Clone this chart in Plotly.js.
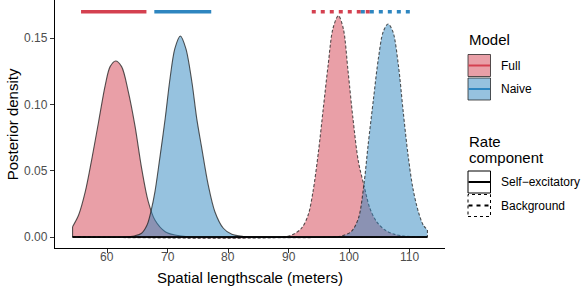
<!DOCTYPE html>
<html>
<head>
<meta charset="utf-8">
<script src="https://cdn.plot.ly/plotly-3.0.1.min.js"></script>
<style>html,body{margin:0;padding:0;background:#fff;}#chart{width:581px;height:287px;}</style>
</head>
<body>
<div id="chart"></div>
<script>
// ---- Data ----
const fullSelfX = [54.3, 55.3, 56.4, 57.5, 58.6, 59.7, 60.5, 61.4, 62.4, 63.5, 64.6, 65.7, 66.8, 67.9, 69.6, 71.2, 73.0, 76.0, 112.9];
const fullSelfY = [0.0078, 0.0166, 0.0342, 0.0594, 0.087, 0.1147, 0.1286, 0.1329, 0.1286, 0.1097, 0.084, 0.052, 0.0267, 0.0128, 0.004, 0.0015, 0.0004, 0, 0];

const naiveSelfX = [54.3, 63.0, 64.5, 65.7, 66.6, 67.3, 67.9, 68.7, 69.6, 70.4, 71.2, 72.1, 73.0, 74.0, 74.8, 75.6, 76.7, 77.8, 79.2, 80.6, 82.5, 85.0, 112.9];
const naiveSelfY = [0, 0, 0.0008, 0.0028, 0.009, 0.0204, 0.034, 0.0594, 0.0896, 0.1198, 0.1424, 0.1517, 0.1424, 0.1172, 0.0896, 0.068, 0.0393, 0.0191, 0.0066, 0.002, 0.0004, 0, 0];

const fullBgX = [54.3, 89.0, 90.5, 92.1, 93.2, 94.0, 94.9, 95.7, 96.5, 97.3, 98.2, 99.0, 99.8, 100.6, 101.5, 102.4, 103.4, 104.5, 105.9, 107.5, 109.5, 112.9];
const fullBgY = [0, 0, 0.0015, 0.0066, 0.0166, 0.0342, 0.0644, 0.0971, 0.1298, 0.1575, 0.1671, 0.1575, 0.1248, 0.0896, 0.0569, 0.0393, 0.0217, 0.0116, 0.0053, 0.002, 0.0005, 0];

const naiveBgX = [54.3, 97.5, 98.7, 100.3, 101.5, 102.4, 103.1, 104.0, 104.8, 105.6, 106.4, 107.2, 108.1, 108.9, 109.7, 110.5, 111.4, 112.2, 112.9];
const naiveBgY = [0, 0, 0.0008, 0.004, 0.0141, 0.0393, 0.0694, 0.1047, 0.1349, 0.155, 0.1608, 0.155, 0.1298, 0.0946, 0.0619, 0.0368, 0.0191, 0.0091, 0.0053];

// credible intervals (top bars)
const fullSelfCI = [55.7, 66.5];
const naiveSelfCI = [67.8, 77.2];
const fullBgCI = [93.8, 103.7];
const naiveBgCI = [101.9, 110.6];
const barLevel = 0.17;

const xTicks = [60, 70, 80, 90, 100, 110];
const yTicks = [0, 0.05, 0.10, 0.15];

const modelNames = ['Full', 'Naive'];
const componentNames = ['Self\u2212excitatory', 'Background'];

// ---- Styles ----
const RED = 'rgb(212,64,80)';
const BLUE = 'rgb(46,134,192)';
const RED_FILL = 'rgba(212,64,80,0.5)';
const BLUE_FILL = 'rgba(46,134,192,0.5)';
const OUTLINE = 'rgba(30,30,30,0.75)';
const FONT = 'Liberation Sans, Arial, Helvetica, sans-serif';
const DASH = '3px,2px';

function density(x, y, fill, dash) {
  return {
    x: x, y: y, type: 'scatter', mode: 'lines',
    line: {color: OUTLINE, width: 1.1, shape: 'spline', smoothing: 0.9, dash: dash},
    fill: 'tozeroy', fillcolor: fill, hoverinfo: 'skip', showlegend: false
  };
}
// vertical end edges of a density outline (where it is cut at the data range)
function edges(x, y, dash) {
  const ex = [], ey = [];
  const n = x.length - 1;
  if (y[0] > 0) { ex.push(x[0], x[0], null); ey.push(0, y[0], null); }
  if (y[n] > 0) { ex.push(x[n], x[n]); ey.push(y[n], 0); }
  return {x: ex, y: ey, type: 'scatter', mode: 'lines', line: {color: OUTLINE, width: 1.1, dash: dash},
    hoverinfo: 'skip', showlegend: false, connectgaps: false};
}
function bar(ci, color, dash) {
  return {
    x: ci, y: [barLevel, barLevel], type: 'scatter', mode: 'lines',
    line: {color: color, width: 3.5, dash: dash},
    hoverinfo: 'skip', showlegend: false
  };
}
const allX = [].concat(fullSelfX, naiveSelfX, fullBgX, naiveBgX);
const baseline = {
  x: [Math.min.apply(null, allX), Math.max.apply(null, allX)], y: [0, 0],
  type: 'scatter', mode: 'lines', line: {color: 'rgba(0,0,0,0.9)', width: 1.8},
  hoverinfo: 'skip', showlegend: false
};

const traces = [
  density(fullSelfX, fullSelfY, RED_FILL, 'solid'),
  density(fullBgX, fullBgY, RED_FILL, DASH),
  density(naiveSelfX, naiveSelfY, BLUE_FILL, 'solid'),
  density(naiveBgX, naiveBgY, BLUE_FILL, DASH),
  edges(fullSelfX, fullSelfY, 'solid'),
  edges(naiveBgX, naiveBgY, DASH),
  baseline,
  bar(fullSelfCI, RED, 'solid'),
  bar(naiveSelfCI, BLUE, 'solid'),
  bar(fullBgCI, RED, '4px,5px'),
  bar(naiveBgCI, BLUE, '4px,5px')
];

// ---- Layout helpers (pixel -> paper) ----
const M = {l: 55, r: 136, t: 0, b: 39};
const PW = 581 - M.l - M.r, PH = 287 - M.t - M.b;
const px = v => (v - M.l) / PW;
const py = v => (PH + M.t - v) / PH;

const shapes = [];
const annotations = [];
function rect(x0, y0, x1, y1, fill, lineColor, dash) {
  shapes.push({type: 'rect', xref: 'paper', yref: 'paper', x0: px(x0), x1: px(x1), y0: py(y1), y1: py(y0),
    fillcolor: fill, line: {color: lineColor, width: 1, dash: dash}, layer: 'above'});
}
function hline(x0, x1, y, color, width, dash) {
  shapes.push({type: 'line', xref: 'paper', yref: 'paper', x0: px(x0), x1: px(x1), y0: py(y), y1: py(y),
    line: {color: color, width: width, dash: dash}, layer: 'above'});
}
function label(x, y, text, size, extra) {
  annotations.push(Object.assign({xref: 'paper', yref: 'paper', x: px(x), y: py(y), text: text, showarrow: false,
    xanchor: 'left', yanchor: 'middle', font: {family: FONT, size: size, color: '#000'}}, extra || {}));
}

// X tick labels (placed at the axis' own tick values)
xTicks.forEach(v => {
  annotations.push({xref: 'x', yref: 'paper', x: v, y: py(256.5), text: String(v), showarrow: false,
    xanchor: 'center', yanchor: 'middle', borderpad: 0, font: {family: FONT, size: 12, color: '#4D4D4D'}});
});

// Axis titles
label(250, 277, 'Spatial lengthscale (meters)', 15, {xanchor: 'center', borderpad: 0});
label(12.3, 124, 'Posterior density', 15, {xanchor: 'center', textangle: -90});

// Model legend
label(466.5, 40, 'Model', 15);
rect(468, 54.5, 490.5, 76.5, RED_FILL, OUTLINE, 'solid');
hline(468.5, 490, 65.5, RED, 2, 'solid');
rect(468, 78, 490.5, 100, BLUE_FILL, OUTLINE, 'solid');
hline(468.5, 490, 89, BLUE, 2, 'solid');
label(498.5, 65.7, modelNames[0], 12);
label(498.5, 89.3, modelNames[1], 12);

// Rate component legend
label(466.5, 141, 'Rate', 15);
label(466.5, 157.5, 'component', 15);
rect(468, 171, 490.5, 193, 'rgba(0,0,0,0)', '#000', 'solid');
hline(468.5, 490, 182, '#000', 2, 'solid');
rect(468, 194.5, 490.5, 216.5, 'rgba(0,0,0,0)', '#000', 'dot');
hline(468.5, 490, 205.5, '#000', 2, '4px,4px');
label(498.5, 182, componentNames[0], 12);
label(498.5, 205.5, componentNames[1], 12);

const layout = {
  width: 581, height: 287,
  margin: M,
  paper_bgcolor: '#fff', plot_bgcolor: '#fff',
  showlegend: false,
  font: {family: FONT},
  xaxis: {
    range: [51.4, 115.8], tickvals: xTicks, showticklabels: false,
    showline: true, linecolor: '#000', linewidth: 1.2,
    ticks: 'outside', ticklen: 4, tickwidth: 1, tickcolor: '#333',
    showgrid: false, zeroline: false, automargin: false
  },
  yaxis: {
    range: [-0.0083, 0.1789], tickvals: yTicks, ticktext: yTicks.map(v => v.toFixed(2)),
    showline: true, linecolor: '#000', linewidth: 1.2,
    ticks: 'outside', ticklen: 4, tickwidth: 1, tickcolor: '#333',
    tickfont: {family: FONT, size: 12, color: '#4D4D4D'},
    showgrid: false, zeroline: false, automargin: false
  },
  shapes: shapes,
  annotations: annotations
};

Plotly.newPlot('chart', traces, layout, {staticPlot: true, displayModeBar: false});
</script>
</body>
</html>
